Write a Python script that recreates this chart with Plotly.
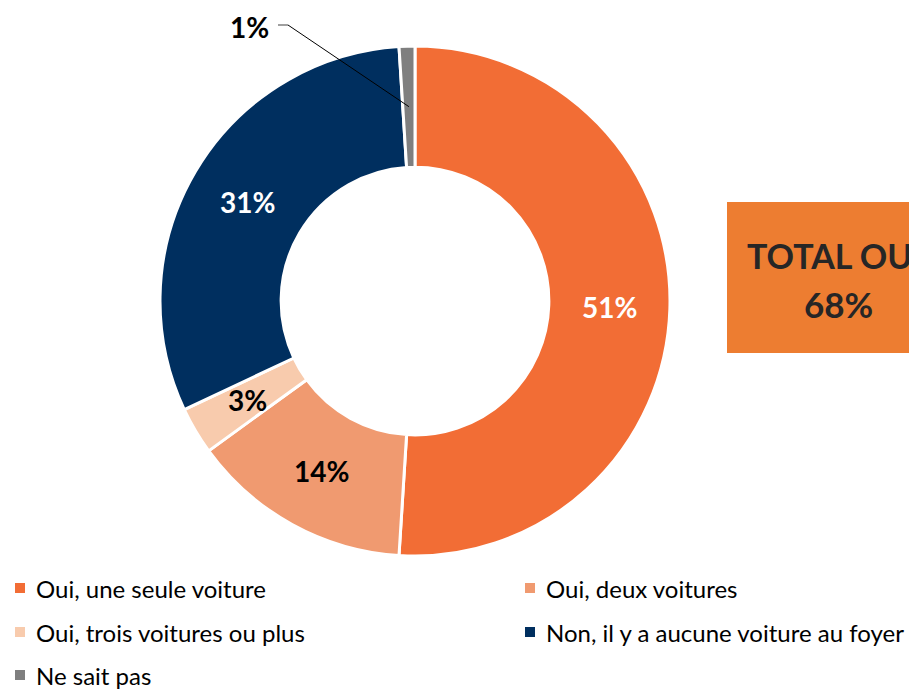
import math
import plotly.graph_objects as go

# ---- data ----
labels = ['Oui, une seule voiture', 'Oui, deux voitures', 'Oui, trois voitures ou plus',
          'Non, il y a aucune voiture au foyer', 'Ne sait pas']
values = [51, 14, 3, 31, 1]
colors = ['#F26D35', '#F09A70', '#F8CBAD', '#002F5F', '#7F7F7F']
text_colors = ['white', 'black', 'black', 'white', 'black']
total_label = 'TOTAL OU'
total_value = '68%'

# the page body adds an 8px margin, so the figure is drawn smaller
OFF = 8
W, H = 917 - OFF, 689 - OFF
FONT = 'Lato'

# pie position in page pixels
cx, cy, r_out = 415, 301, 255
hole = 0.525


def px(x):
    return (x - OFF) / W


def py(y):
    return 1 - (y - OFF) / H


fig = go.Figure()
fig.add_trace(go.Pie(
    labels=labels, values=values, sort=False, direction='clockwise', rotation=0,
    hole=hole,
    marker=dict(colors=colors, line=dict(color='white', width=3)),
    textposition='none',
    domain=dict(x=[px(cx - r_out), px(cx + r_out)], y=[py(cy + r_out), py(cy - r_out)]),
    showlegend=False,
    hoverinfo='label+percent',
))

# slice labels, placed at the middle of each ring segment
total = sum(values)
r_mid = r_out * (1 + hole) / 2
cum = 0
mids = []
for v in values:
    ang = (cum + v / 2) / total * 2 * math.pi
    mids.append((cx + r_mid * math.sin(ang), cy - r_mid * math.cos(ang)))
    cum += v
for i in range(len(values) - 1):
    mx, my = mids[i]
    fig.add_annotation(x=px(mx), y=py(my), xref='paper', yref='paper', showarrow=False,
                       text=f'{values[i]}%', xanchor='center', yanchor='middle',
                       font=dict(family=FONT, size=28, color=text_colors[i], weight='bold'))

# leader line for the small slice
tip_x, tip_y = mids[-1]
fig.add_shape(type='line', xref='paper', yref='paper',
              x0=px(278), y0=py(25), x1=px(288), y1=py(25),
              line=dict(color='#7F7F7F', width=1.5))
fig.add_shape(type='line', xref='paper', yref='paper',
              x0=px(288), y0=py(25), x1=px(tip_x), y1=py(tip_y),
              line=dict(color='black', width=1))
fig.add_annotation(x=px(271), y=py(27), xref='paper', yref='paper', showarrow=False,
                   text=f'{values[-1]}%', xanchor='right', yanchor='middle',
                   font=dict(family=FONT, size=28, color='black', weight='bold'))

# total box
fig.add_shape(type='rect', xref='paper', yref='paper',
              x0=px(727), x1=px(930), y0=py(353), y1=py(202),
              fillcolor='#ED7D31', line=dict(width=0), layer='below')
fig.add_annotation(x=px(914), y=py(256), xref='paper', yref='paper', showarrow=False,
                   text=total_label, xanchor='right', yanchor='middle',
                   font=dict(family=FONT, size=34, color='#262626', weight='bold'))
fig.add_annotation(x=px(838), y=py(304), xref='paper', yref='paper', showarrow=False,
                   text=total_value, xanchor='center', yanchor='middle',
                   font=dict(family=FONT, size=35, color='#262626', weight='bold'))

# legend, two columns
leg_x = [15, 525]
leg_y = [588, 632, 675]
for i, lab in enumerate(labels):
    lx = leg_x[i % 2]
    ly = leg_y[i // 2]
    fig.add_shape(type='rect', xref='paper', yref='paper',
                  x0=px(lx), x1=px(lx + 10), y0=py(ly + 5), y1=py(ly - 5),
                  fillcolor=colors[i], line=dict(width=0))
    fig.add_annotation(x=px(lx + 19), y=py(ly), xref='paper', yref='paper', showarrow=False,
                       text=lab, xanchor='left', yanchor='middle',
                       font=dict(family=FONT, size=24, color='black'))

fig.update_layout(
    width=W, height=H,
    margin=dict(l=0, r=0, t=0, b=0),
    paper_bgcolor='white', plot_bgcolor='white',
    font=dict(family=FONT),
)

fig.write_html('out.html')
